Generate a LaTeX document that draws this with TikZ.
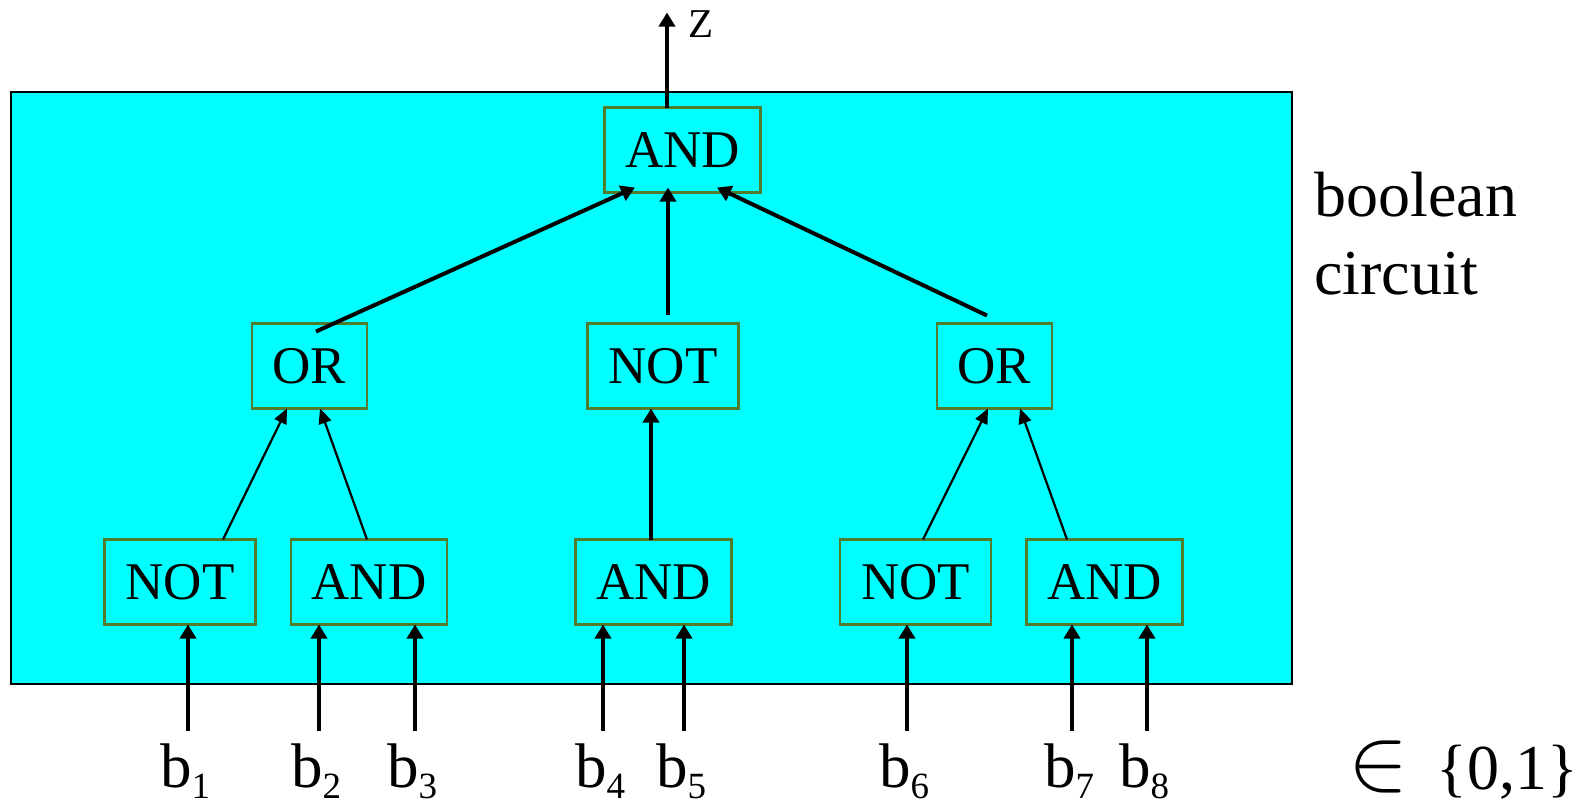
\documentclass[tikz,border=0pt]{standalone}
\usepackage{fontspec}
\setmainfont{Liberation Serif}
\usepackage{tikz}
\usetikzlibrary{arrows.meta, positioning}
\definecolor{cCyan}{RGB}{0,255,255}
\definecolor{cGate}{RGB}{80,125,45}
\newcommand{\gatefont}{\fontsize{26.5}{30}\selectfont}
\newcommand{\inbit}[1]{b\raisebox{-5.5pt}{\fontsize{18.5}{20}\selectfont #1}}
\tikzset{
	gate/.style    ={rectangle, draw=cGate, line width=1.1pt, fill=cCyan, minimum height=42.5pt, inner sep=0pt, outer sep=0pt, font=\gatefont},
	andg/.style    ={gate, minimum width=78pt},
	notg/.style    ={gate, minimum width=75.5pt},
	org/.style     ={gate, minimum width=57.5pt},
	% signal lines
	wire/.style    ={-{Triangle[length=7pt, width=8pt]}, line width=2pt},
	thinwire/.style={-{Triangle[length=7.5pt, width=6.5pt]}, line width=1.1pt},
}

\begin{document}
\begin{tikzpicture}[x=0.5pt, y=-0.5pt, node distance=65.5pt,
			lbl/.style={inner sep=0pt, anchor=base, font=\fontsize{31.5}{36}\selectfont}]
	\useasboundingbox (0,0) rectangle (1586,805);
	\draw[fill=cCyan, line width=1.3pt] (11,92) rectangle (1292,684);
	% gates
	\node[andg] (top) at (682.5,150) {AND};
	\node[org, below=of top, xshift=-186.5pt] (orL) {OR};
	\node[notg, below=of top, xshift=-9.75pt] (notM) {NOT};
	\node[org, below=of top, xshift=156pt] (orR) {OR};
	\node[notg, below=of orL, xshift=-64.75pt] (not1) {NOT};
	\node[andg, below=of orL, xshift=29.75pt] (and2) {AND};
	\node[andg, below=of notM, xshift=-4.75pt] (andM) {AND};
	\node[notg, below=of orR, xshift=-39.5pt] (notR) {NOT};
	\node[andg, below=of orR, xshift=55pt] (andR) {AND};
	% inputs
	\foreach \i/\x in {1/188,2/319,3/415,4/603,5/684,6/907,7/1072,8/1147}
		\node[lbl] (b\i) at (\x-3,787) {\inbit{\i}};
	\foreach \i/\g in {1/not1,2/and2,3/and2,4/andM,5/andM,6/notR,7/andR,8/andR} {
		\coordinate (s\i) at ([shift={(1.5pt,6pt)}]b\i.north);
		\draw[wire] (s\i) -- (s\i |- \g.south);
	}
	\draw[thinwire] ([xshift=21.5pt]not1.north) -- ([xshift=-11.25pt]orL.south);
	\draw[thinwire] ([xshift=-1pt]and2.north) -- ([xshift=5.25pt]orL.south);
	\draw[wire] ([xshift=-1.25pt]andM.north) -- ([xshift=-6pt]notM.south);
	\draw[thinwire] ([xshift=3.75pt]notR.north) -- ([xshift=-3.25pt]orR.south);
	\draw[thinwire] ([xshift=-18.75pt]andR.north) -- ([xshift=12.75pt]orR.south);
	\draw[wire] ([shift={(3.25pt,-4pt)}]orL.north) -- ([shift={(-23.75pt,2.5pt)}]top.south);
	\draw[wire] ([shift={(2.5pt,4.5pt)}]notM.north) -- ([shift={(-7.25pt,2.5pt)}]top.south);
	\draw[wire] ([shift={(-3.75pt,4pt)}]orR.north) -- ([shift={(17.25pt,2.5pt)}]top.south);
	% output
	\coordinate (zend) at ([shift={(-7.75pt,47.5pt)}]top.north);
	\draw[wire] ([xshift=-7.75pt]top.north) -- (zend);
	\node[anchor=west, inner sep=0pt, font=\fontsize{20.5}{24}\selectfont] (zlbl) at ([shift={(10.5pt,-6pt)}]zend) {Z};
	\node[anchor=north west, inner sep=0pt, align=left, font=\fontsize{32}{39}\selectfont] (cap) at (1314,172) {boolean\\circuit};
	\node[anchor=base west, inner sep=0pt] (dom) at (1348,789) {\scalebox{4.5}{$\in$}\fontsize{32}{38}\selectfont\hspace{14pt}\{0,1\}};
\end{tikzpicture}
\end{document}
